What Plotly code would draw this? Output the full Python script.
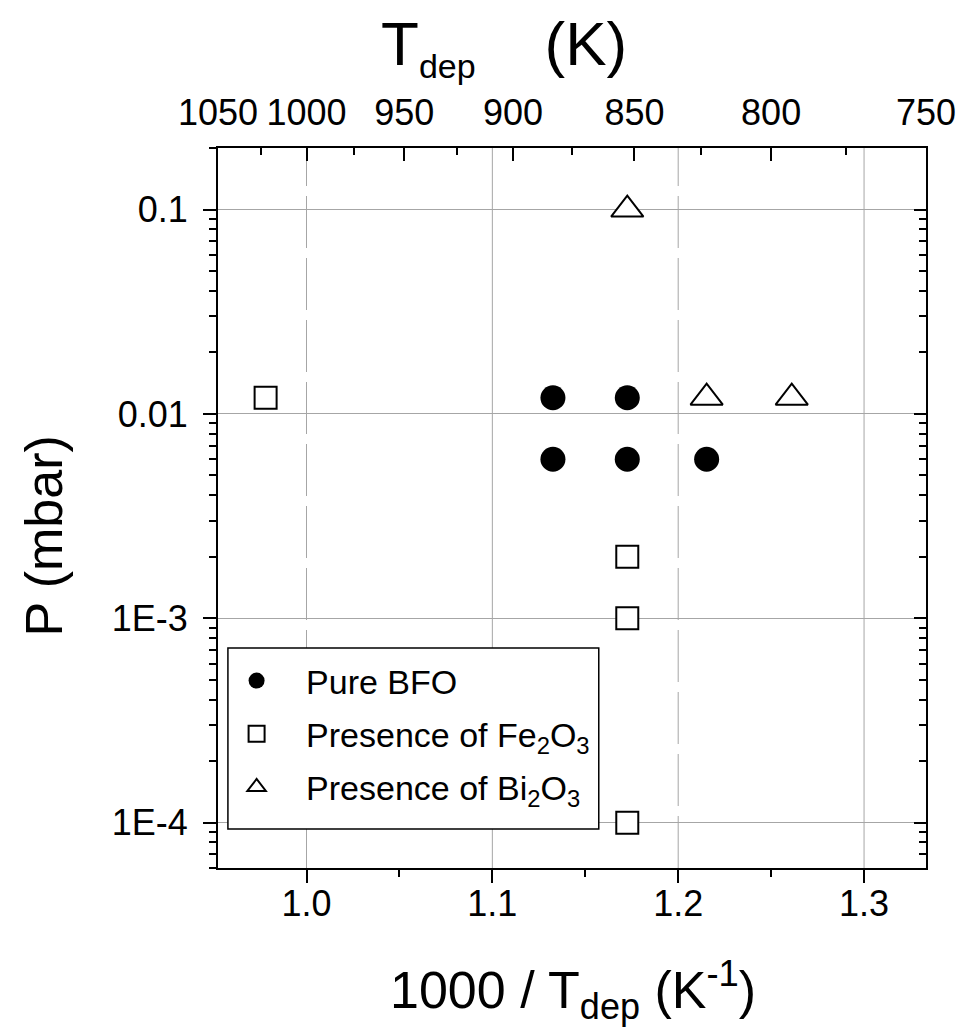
import plotly.graph_objects as go
import numpy as np

# ---- data (x = 1000/T_dep in K^-1, y = P in mbar) ----
pure_x = [1.1326, 1.1726, 1.1326, 1.1726, 1.2153]
pure_p = [0.012, 0.012, 0.006, 0.006, 0.006]

fe_x = [0.978, 1.1726, 1.1726, 1.1726]
fe_p = [0.012, 0.002, 0.001, 0.0001]

bi_x = [1.1726, 1.2153, 1.2611]
bi_p = [0.1, 0.012, 0.012]

# axis tick definitions
bottom_ticks = [1.0, 1.1, 1.2, 1.3]
bottom_labels = ["1.0", "1.1", "1.2", "1.3"]
bottom_minor = [1.05, 1.15, 1.25]
top_T = [1050, 1000, 950, 900, 850, 800, 750]
top_T_minor = [1025, 975, 925, 875, 825, 775]
y_ticks = [1e-4, 1e-3, 1e-2, 1e-1]
y_labels = ["1E-4", "1E-3", "0.01", "0.1"]
solid_grid = [1.1, 1.3]
dashed_grid = [1.0, 1.2]

W, H = 968, 1036
L, R, T, B = 218, 36, 148, 168
FONT = "Arial, Liberation Sans, sans-serif"

xr = [1000 / 1050, 1000 / 750]
yr = [np.log10(6e-5), np.log10(0.2)]
y_minor = [k * 10.0 ** e for e in range(-5, 0) for k in range(2, 10)
           if yr[0] <= np.log10(k * 10.0 ** e) <= yr[1]]


def px(xp):
    return (xp - L) / (W - L - R)


def py(yp):
    return (H - B - yp) / (H - T - B)


fig = go.Figure()
fig.add_trace(go.Scatter(x=pure_x, y=pure_p, mode="markers", name="Pure BFO",
                         legendgroup="a",
                         marker=dict(symbol="circle", size=25, color="black",
                                     line=dict(width=0))))
fig.add_trace(go.Scatter(x=fe_x, y=fe_p, mode="markers",
                         name="Presence of Fe<sub>2</sub>O<sub>3</sub>",
                         legendgroup="b",
                         marker=dict(symbol="square", size=22, color="white",
                                     line=dict(width=2, color="black"))))
fig.add_trace(go.Scatter(x=bi_x, y=bi_p, mode="markers",
                         name="Presence of Bi<sub>2</sub>O<sub>3</sub>",
                         legendgroup="c",
                         marker=dict(symbol="triangle-up", size=28, color="white",
                                     line=dict(width=2, color="black"))))
# empty helper trace so the mirror axes (top / right) are drawn
fig.add_trace(go.Scatter(x=[], y=[], xaxis="x2", yaxis="y2", showlegend=False,
                         hoverinfo="skip"))

tickfont = dict(family=FONT, size=36, color="black")

fig.update_layout(
    width=W, height=H,
    margin=dict(l=L, r=R, t=T, b=B),
    paper_bgcolor="white", plot_bgcolor="white",
    font=dict(family=FONT, color="black"),
    showlegend=True,
    legend=dict(x=px(207), y=py(652),
                xanchor="left", yanchor="top",
                bgcolor="rgba(0,0,0,0)", borderwidth=0,
                font=dict(family=FONT, size=34, color="black"),
                itemwidth=89, tracegroupgap=6, traceorder="grouped"),
    xaxis=dict(range=xr, autorange=False, showgrid=False, zeroline=False,
               showline=True, linecolor="black", linewidth=2,
               tickmode="array", tickvals=bottom_ticks, ticktext=bottom_labels,
               ticks="outside", ticklen=13, tickwidth=2, tickcolor="black",
               tickfont=tickfont, ticklabelstandoff=-10,
               minor=dict(tickmode="array", tickvals=bottom_minor,
                          ticks="outside", ticklen=7, tickwidth=2,
                          tickcolor="black", showgrid=False)),
    xaxis2=dict(overlaying="x", side="top", range=xr, autorange=False,
                showgrid=False, zeroline=False,
                showline=True, linecolor="black", linewidth=2,
                tickmode="array", tickvals=[1000 / t for t in top_T],
                ticktext=[str(t) for t in top_T],
                ticks="inside", ticklen=13, tickwidth=2, tickcolor="black",
                tickfont=tickfont, ticklabelstandoff=7,
                minor=dict(tickmode="array",
                           tickvals=[1000 / t for t in top_T_minor],
                           ticks="inside", ticklen=7, tickwidth=2,
                           tickcolor="black", showgrid=False)),
    yaxis=dict(type="log", range=yr, autorange=False,
               showgrid=True, gridcolor="#a6a6a6", gridwidth=1,
               zeroline=False, showline=True, linecolor="black", linewidth=2,
               tickmode="array", tickvals=y_ticks, ticktext=y_labels,
               ticks="outside", ticklen=13, tickwidth=2, tickcolor="black",
               tickfont=tickfont, ticklabelstandoff=8,
               minor=dict(tickmode="array", tickvals=y_minor,
                          ticks="outside", ticklen=7, tickwidth=2,
                          tickcolor="black", showgrid=False)),
    yaxis2=dict(type="log", overlaying="y", side="right", range=yr,
                autorange=False, showgrid=False, zeroline=False,
                showline=True, linecolor="black", linewidth=2,
                tickmode="array", tickvals=y_ticks, showticklabels=False,
                ticks="inside", ticklen=12, tickwidth=2, tickcolor="black",
                minor=dict(tickmode="array", tickvals=y_minor,
                           ticks="inside", ticklen=7, tickwidth=2,
                           tickcolor="black", showgrid=False)),
)

# vertical grid lines (bottom axis majors)
for gx in solid_grid:
    fig.add_shape(type="line", xref="x", yref="paper", x0=gx, x1=gx, y0=0, y1=1,
                  layer="below", line=dict(color="#a6a6a6", width=1))
for gx in dashed_grid:
    fig.add_shape(type="line", xref="x", yref="paper", x0=gx, x1=gx, y0=0, y1=1,
                  layer="below", line=dict(color="#a6a6a6", width=1, dash="52px,10px"))

# legend frame
fig.add_shape(type="rect", xref="paper", yref="paper",
              x0=px(228), x1=px(602), y0=py(829), y1=py(648),
              layer="above", fillcolor="white",
              line=dict(color="black", width=1.5))

title_font = dict(family=FONT, size=52, color="black")
fig.add_annotation(
    text="1000 / T<sub><span style=\"font-size:36px\">dep</span></sub> (K<sup>-1</sup>)",
    xref="paper", yref="paper", x=px(576), y=py(990),
    xanchor="center", yanchor="middle", showarrow=False, font=title_font)
fig.add_annotation(
    text="T<sub><span style=\"font-size:34px\">dep</span></sub>    (K)",
    xref="paper", yref="paper", x=px(380), y=py(47),
    xanchor="left", yanchor="middle", showarrow=False,
    font=dict(family=FONT, size=62, color="black"))
fig.add_annotation(text="P (mbar)", textangle=-90,
                   xref="paper", yref="paper", x=px(43), y=py(536),
                   xanchor="center", yanchor="middle", showarrow=False,
                   font=title_font)

fig.write_html("out.html", config={"displayModeBar": False},
               post_script="document.body.style.margin='0px';")
